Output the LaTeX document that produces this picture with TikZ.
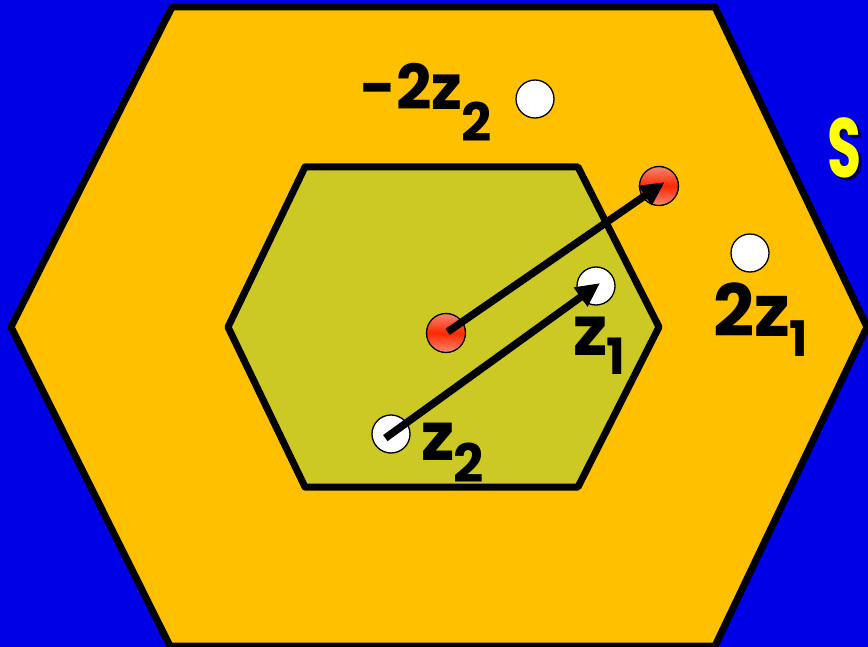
\documentclass[tikz,border=0pt]{standalone}
\usepackage{fontspec}
\setmainfont{Poppins}
\usetikzlibrary{arrows.meta}
\definecolor{bgblue}{RGB}{0,0,230}
\definecolor{hexorange}{RGB}{255,192,0}
\definecolor{hexolive}{RGB}{204,200,36}
\definecolor{redlight}{RGB}{245,135,115}
\definecolor{reddeep}{RGB}{255,40,0}
\definecolor{syellow}{RGB}{255,255,0}
\definecolor{sshadow}{RGB}{0,0,90}
\tikzset{
  hexline/.style={draw=black, line width=7pt, line join=round},
  whiteball/.style={circle, draw=black, line width=1.3pt, fill=white, minimum size=38pt, inner sep=0pt},
  redball/.style={circle, draw=black, line width=1.3pt, minimum size=39pt, inner sep=0pt,
    top color=redlight, bottom color=redlight, middle color=reddeep},
  arr/.style={line width=7.5pt, -{Triangle[length=24pt,width=22pt]}},
  lbl/.style={anchor=base west, inner sep=0pt, text=black},
}
\begin{document}
\begin{tikzpicture}[x=1pt,y=-1pt]
\useasboundingbox (0,0) rectangle (868,647);
\clip (0,0) rectangle (868,647);
\fill[bgblue] (0,0) rectangle (868,647);
% outer hexagon
\draw[hexline, fill=hexorange] (172,7) -- (715,7) -- (867,327) -- (715,646) -- (170,646) -- (11,327) -- cycle;
% inner hexagon
\draw[hexline, fill=hexolive] (305,167) -- (578,167) -- (659,327) -- (578,487) -- (305,487) -- (228,327) -- cycle;
% balls
\node[whiteball] (m2z2) at (535,99) {};
\node[whiteball] (tz1) at (750,253) {};
\node[whiteball] (z1) at (596,286) {};
\node[whiteball] (z2) at (391,434) {};
\node[redball] (rc) at (446,333) {};
\node[redball] (rt) at (659,186) {};
% arrows
\draw[arr, shorten <=2pt, shorten >=-7pt] (rc.center) -- (rt.center);
\draw[arr, shorten <=-7pt, shorten >=-5pt] (z2.center) -- (z1.center);
% labels
\node[lbl, font=\fontsize{62}{62}\selectfont\bfseries] (lm2z2) at (360,110)
  {-2z\kern-1pt\raisebox{-32pt}{\fontsize{53}{53}\selectfont 2}};
\node[lbl, font=\fontsize{72}{72}\selectfont\bfseries] (ltz1) at (713,337)
  {2z\kern-1pt\raisebox{-20pt}{\fontsize{49}{49}\selectfont 1}};
\node[lbl, font=\fontsize{69}{69}\selectfont\bfseries] (lz1) at (573,355)
  {z\kern-1pt\raisebox{-20pt}{\fontsize{50}{50}\selectfont 1}};
\node[lbl, font=\fontsize{67}{67}\selectfont\bfseries] (lz2) at (421,460)
  {z\kern-1pt\raisebox{-22pt}{\fontsize{53}{53}\selectfont 2}};
% S with shadow
\node[lbl, text=sshadow, font=\fontsize{84}{84}\selectfont\bfseries] (sshad) at (830,181) {\scalebox{0.66}[1]{S}};
\node[lbl, text=syellow, font=\fontsize{84}{84}\selectfont\bfseries] (slbl) at (827,178) {\scalebox{0.66}[1]{S}};
\end{tikzpicture}
\end{document}
